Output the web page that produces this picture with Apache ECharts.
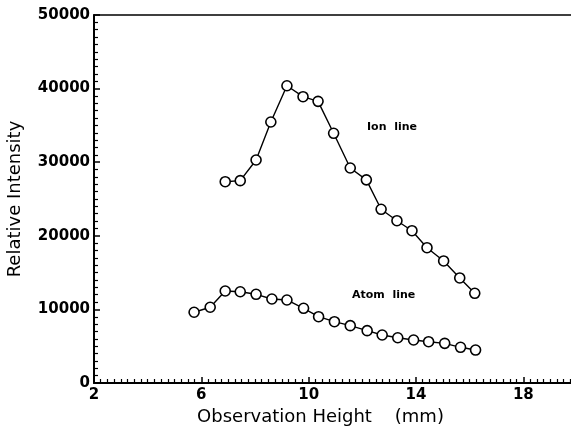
<!DOCTYPE html>
<html><head><meta charset="utf-8">
<script src="https://cdn.jsdelivr.net/npm/echarts@6/dist/echarts.min.js"></script>
<style>html,body{margin:0;padding:0;background:#fff}#c{width:571px;height:433px}</style>
</head><body><div id="c"></div>
<script>
var ionX = [6.89, 7.45, 8.04, 8.59, 9.19, 9.79, 10.35, 10.93, 11.55, 12.15, 12.70, 13.29, 13.85, 14.41, 15.03, 15.63, 16.19];
var ionY = [27350, 27490, 30300, 35460, 40390, 38900, 38270, 33930, 29210, 27600, 23600, 22050, 20690, 18380, 16580, 14270, 12190];
var atomX = [5.73, 6.33, 6.89, 7.45, 8.04, 8.63, 9.19, 9.81, 10.37, 10.96, 11.55, 12.18, 12.74, 13.32, 13.91, 14.47, 15.07, 15.66, 16.22];
var atomY = [9610, 10290, 12500, 12400, 12050, 11410, 11280, 10150, 9010, 8330, 7790, 7110, 6520, 6150, 5840, 5610, 5390, 4850, 4480];
var xTicks = [2, 6, 10, 14, 18];
var yTicks = [0, 10000, 20000, 30000, 40000, 50000];
var xName = 'Observation Height    (mm)';
var yName = 'Relative Intensity';
var ionLabel = 'Ion  line';
var atomLabel = 'Atom  line';

function pairs(xs, ys){ return xs.map(function(x,i){return [x, ys[i]];}); }
var font = 'DejaVu Sans';
var chart = echarts.init(document.getElementById('c'));
var seriesStyle = {
  type: 'line', symbol: 'circle', symbolSize: 10,
  lineStyle: {color: '#000', width: 1.4},
  itemStyle: {color: '#fff', borderColor: '#000', borderWidth: 1.6},
  animation: false, z: 3
};
chart.setOption({
  backgroundColor: '#fff',
  grid: {left: 94, right: -6, top: 15, bottom: 50, containLabel: false, outerBoundsMode: 'none'},
  xAxis: [{
    type: 'value', min: 2, max: 20, interval: 4,
    axisLine: {show: true, onZero: false, lineStyle: {color: '#000', width: 2}},
    axisTick: {show: true, inside: true, length: 6, lineStyle: {color: '#000', width: 1.5}},
    minorTick: {show: true, splitNumber: 16, length: 4, lineStyle: {color: '#000', width: 1.2}},
    splitLine: {show: false},
    axisLabel: {color: '#000', fontFamily: font, fontWeight: 'bold', fontSize: 15, margin: 5,
      formatter: function(v){ return xTicks.indexOf(v) >= 0 ? String(v) : ''; }},
    name: xName, nameLocation: 'middle', nameGap: 15,
    nameTextStyle: {color: '#000', fontFamily: font, fontSize: 18, verticalAlign: 'top', padding: [0, 0, 0, -30]}
  }, {
    type: 'value', min: 2, max: 20, position: 'top',
    axisLine: {show: true, onZero: false, lineStyle: {color: '#000', width: 1.5}},
    axisTick: {show: false}, axisLabel: {show: false}, splitLine: {show: false}
  }],
  yAxis: {
    type: 'value', min: 0, max: 50000, interval: 10000,
    axisLine: {show: true, onZero: false, lineStyle: {color: '#000', width: 2}},
    axisTick: {show: true, inside: true, length: 6, lineStyle: {color: '#000', width: 1.5}},
    minorTick: {show: true, splitNumber: 10, length: 4, lineStyle: {color: '#000', width: 1.2}},
    splitLine: {show: false},
    axisLabel: {color: '#000', fontFamily: font, fontWeight: 'bold', fontSize: 15, margin: 4,
      formatter: function(v){ return yTicks.indexOf(v) >= 0 ? String(v) : ''; }},
    name: yName, nameLocation: 'middle', nameGap: 70,
    nameTextStyle: {color: '#000', fontFamily: font, fontSize: 18}
  },
  series: [
    Object.assign({name: 'Ion line', data: pairs(ionX, ionY)}, seriesStyle),
    Object.assign({name: 'Atom line', data: pairs(atomX, atomY)}, seriesStyle)
  ],
  graphic: [
    {type: 'text', left: 367, top: 122, style: {text: ionLabel, fill: '#000', font: 'bold 11px "DejaVu Sans"'}},
    {type: 'text', left: 352, top: 290, style: {text: atomLabel, fill: '#000', font: 'bold 11px "DejaVu Sans"'}}
  ]
});
</script></body></html>
